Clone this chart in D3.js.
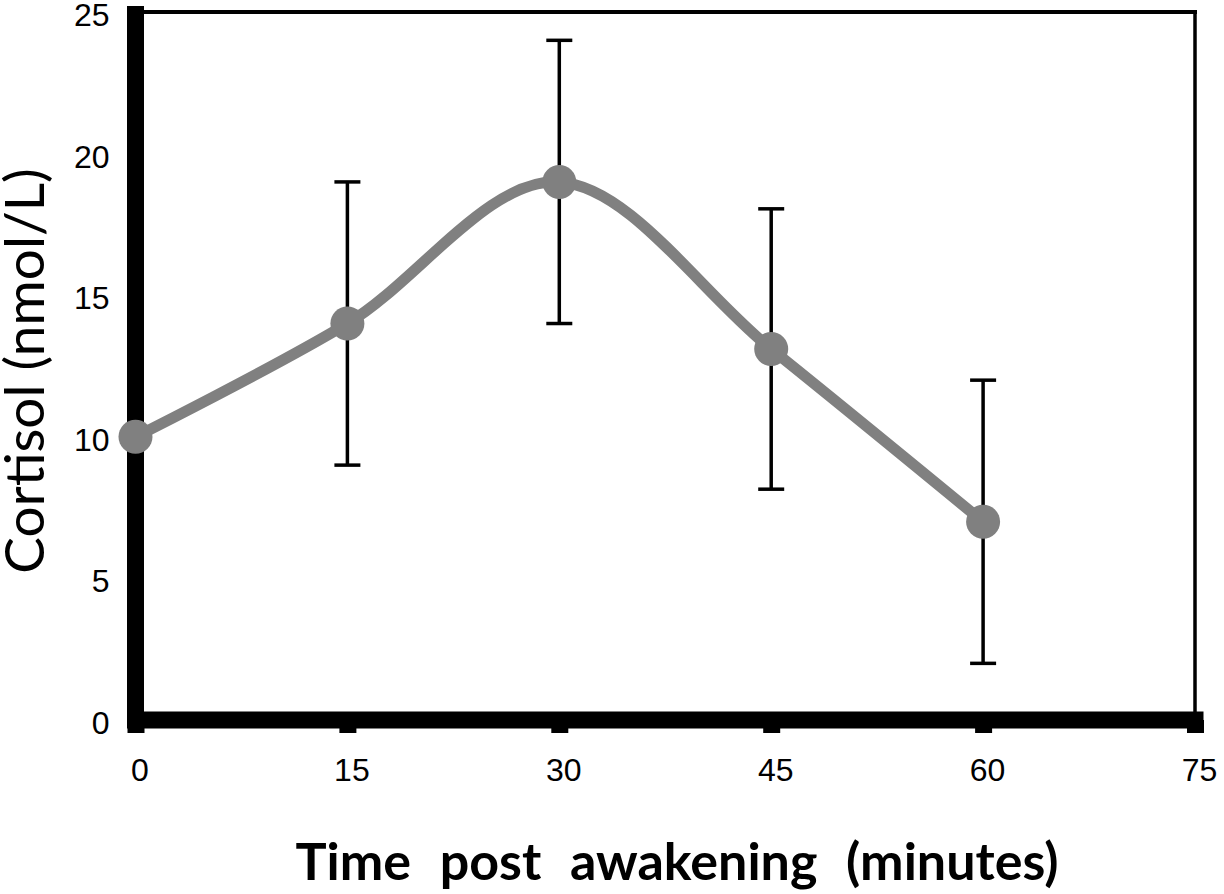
<!DOCTYPE html>
<html>
<head>
<meta charset="utf-8">
<script src="https://cdn.jsdelivr.net/npm/d3@7"></script>
<style>
  body { margin: 0; background: #fff; }
  .tick text { font-family: "Liberation Sans", Arial, sans-serif; font-size: 32px; fill: #000; }
</style>
</head>
<body>
<script>
// values
const times = [0, 15, 30, 45, 60];
const cortisol = [10, 14, 19, 13.1, 7];
const errors = [0, 5, 5, 4.95, 5];
const xTicks = [0, 15, 30, 45, 60, 75];
const yTicks = [0, 5, 10, 15, 20, 25];

const width = 1224;
const height = 894;

const data = times.map((t, i) => ({ t: t, v: cortisol[i], e: errors[i] }));

const svg = d3.select('body')
  .append('svg')
  .attr('width', width)
  .attr('height', height);

const x = d3.scaleLinear()
  .domain([0, 75])
  .range([135.5, 1195]);

const y = d3.scaleLinear()
  .domain([0, 25])
  .range([720, 12]);

// thin frame top and right
svg.append('line')
  .attr('x1', x(0)).attr('x2', x(75) + 2)
  .attr('y1', y(25)).attr('y2', y(25))
  .attr('stroke', '#000').attr('stroke-width', 4);
svg.append('line')
  .attr('x1', x(75)).attr('x2', x(75))
  .attr('y1', y(25)).attr('y2', y(0))
  .attr('stroke', '#000').attr('stroke-width', 3.5);

// y axis: thick domain, small inward ticks
const yAxis = d3.axisLeft(y)
  .tickValues(yTicks)
  .tickSizeInner(-8)
  .tickSizeOuter(0)
  .tickPadding(26);

const gy = svg.append('g')
  .attr('id', 'y-axis')
  .attr('transform', 'translate(' + x(0) + ',0)')
  .call(yAxis);
gy.select('.domain')
  .attr('stroke-width', 17)
  .attr('d', 'M0,' + (y(25) - 6) + 'V' + y(0));
gy.selectAll('.tick line').attr('stroke-width', 2).attr('x1', 8);
gy.selectAll('.tick text').attr('dy', '0.42em');

// x axis: thick domain with thick stub ticks
const xAxis = d3.axisBottom(x)
  .tickValues(xTicks)
  .tickSizeInner(13)
  .tickSizeOuter(0)
  .tickPadding(25);

const gx = svg.append('g')
  .attr('id', 'x-axis')
  .attr('transform', 'translate(0,' + y(0) + ')')
  .call(xAxis);
gx.select('.domain')
  .attr('stroke-width', 17)
  .attr('d', 'M' + (x(0) - 8.5) + ',0H' + (x(75) + 8.5));
gx.selectAll('.tick line').attr('stroke-width', 17);
gx.selectAll('.tick text').attr('dx', 4);

// axis titles
svg.append('text')
  .attr('transform', 'translate(44,' + 371 + ') rotate(-90)')
  .attr('text-anchor', 'middle')
  .attr('font-family', 'Lato, "Open Sans", sans-serif')
  .attr('font-size', 55)
  .text('Cortisol (nmol/L)');

svg.append('text')
  .attr('x', 677)
  .attr('y', 880)
  .attr('text-anchor', 'middle')
  .attr('font-family', 'Lato, "Open Sans", sans-serif')
  .attr('font-weight', 'bold')
  .attr('font-size', 52)
  .attr('word-spacing', 16)
  .text('Time post awakening (minutes)');

// error bars
const bars = svg.append('g')
  .attr('class', 'errors')
  .selectAll('g')
  .data(data.filter(d => d.e > 0))
  .enter()
  .append('g')
  .attr('stroke', '#000')
  .attr('stroke-width', 3.5);

bars.append('line')
  .attr('x1', d => x(d.t)).attr('x2', d => x(d.t))
  .attr('y1', d => y(d.v + d.e)).attr('y2', d => y(d.v - d.e));
bars.append('line')
  .attr('x1', d => x(d.t) - 13).attr('x2', d => x(d.t) + 13)
  .attr('y1', d => y(d.v + d.e)).attr('y2', d => y(d.v + d.e));
bars.append('line')
  .attr('x1', d => x(d.t) - 13).attr('x2', d => x(d.t) + 13)
  .attr('y1', d => y(d.v - d.e)).attr('y2', d => y(d.v - d.e));

// smoothed line
const line = d3.line()
  .x(d => x(d.t))
  .y(d => y(d.v))
  .curve(d3.curveCardinal.tension(0));

svg.append('path')
  .datum(data)
  .attr('fill', 'none')
  .attr('stroke', '#808080')
  .attr('stroke-width', 11)
  .attr('d', line);

svg.append('g')
  .selectAll('circle')
  .data(data)
  .enter()
  .append('circle')
  .attr('cx', d => x(d.t))
  .attr('cy', d => y(d.v))
  .attr('r', 17)
  .attr('fill', '#808080');
</script>
</body>
</html>
